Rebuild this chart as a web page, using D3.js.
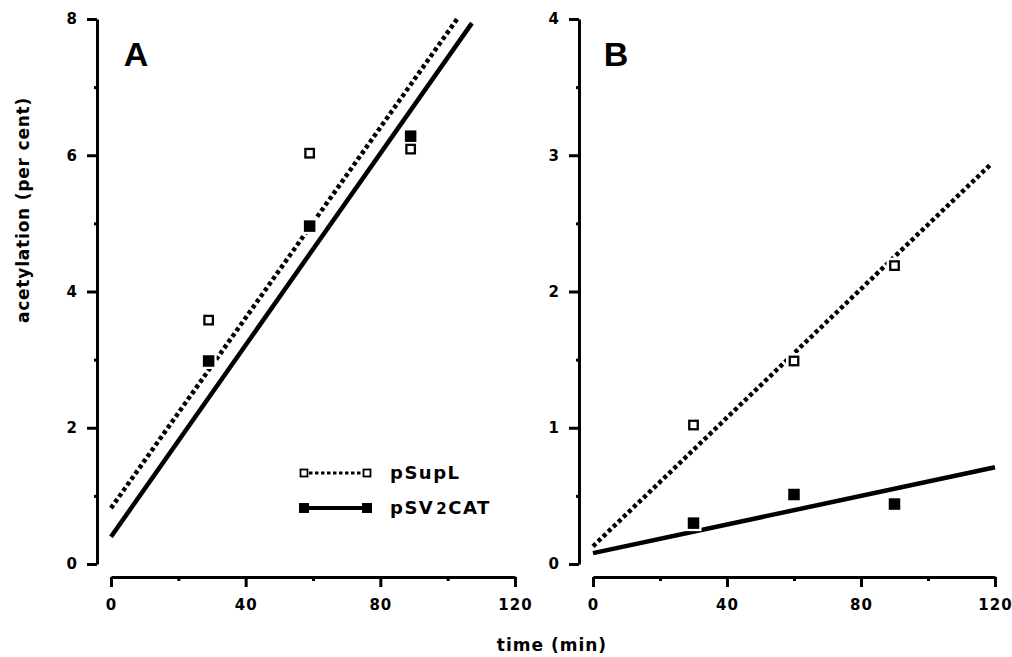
<!DOCTYPE html>
<meta charset="utf-8">
<script src="https://d3js.org/d3.v7.min.js"></script>
<style>
  body { margin: 0; background: #fff; }
  svg text { fill: #000; }
</style>
<div id="chart"></div>
<script>
  // values
  var timesA = [29, 59, 89],
      timesB = [30, 60, 90];
  var supA = [3.58, 6.03, 6.09],
      catA = [2.98, 4.96, 6.28],
      supB = [1.02, 1.49, 2.19],
      catB = [0.30, 0.51, 0.44];
  // fitted lines, drawn from their end points
  var fitSupA = [[0, 0.82], [102.8, 8.0]],
      fitCatA = [[0, 0.40], [107.2, 7.94]],
      fitSupB = [[0, 0.13], [119, 2.94]],
      fitCatB = [[0, 0.08], [120, 0.71]];
  var xMajor = [0, 40, 80, 120], xMinor = [20, 60, 100];
  var yMajorA = [0, 2, 4, 6, 8], yMinorA = [1, 3, 5, 7];
  var yMajorB = [0, 1, 2, 3, 4], yMinorB = [0.5, 1.5, 2.5, 3.5];
  var seriesNames = ["pSupL", "pSV2CAT"];

  var width = 1012, height = 657;
  var tickFont = "'DejaVu Sans', sans-serif";

  var svg = d3.select("#chart")
    .append("svg")
      .attr("width", width)
      .attr("height", height);

  function panel(opt) {
    var x = d3.scaleLinear().domain([0, 120]).range(opt.xr);
    var y = d3.scaleLinear().domain([0, opt.ymax]).range([564, 19]);
    var g = svg.append("g");

    // y axis, big ticks with labels + small unlabelled ones
    g.append("g")
      .attr("transform", "translate(" + opt.yAxisX + ",0)")
      .call(d3.axisLeft(y).tickValues(opt.yMajor).tickSize(10).tickSizeOuter(0).tickPadding(9)
        .tickFormat(d3.format("d")));
    g.append("g")
      .attr("transform", "translate(" + opt.yAxisX + ",0)")
      .call(d3.axisLeft(y).tickValues(opt.yMinor).tickSize(3).tickFormat(""))
      .call(function(s){ s.select(".domain").remove(); });

    // x axis
    g.append("g")
      .attr("transform", "translate(0,577)")
      .call(d3.axisBottom(x).tickValues(xMajor).tickSize(10).tickSizeOuter(0).tickPadding(12));
    g.append("g")
      .attr("transform", "translate(0,577)")
      .call(d3.axisBottom(x).tickValues(xMinor).tickSize(4).tickFormat(""))
      .call(function(s){ s.select(".domain").remove(); });

    g.selectAll(".domain, .tick line")
      .attr("stroke", "#000")
      .attr("stroke-width", 3);
    g.selectAll(".tick text")
      .style("font-family", tickFont)
      .style("font-weight", "bold")
      .style("font-size", "15px")
      .style("letter-spacing", "1px");

    var line = d3.line()
      .x(function(d){ return x(d[0]); })
      .y(function(d){ return y(d[1]); });

    g.append("path")
      .attr("d", line(opt.fitSup))
      .attr("fill", "none")
      .attr("stroke", "#000")
      .attr("stroke-width", 4.5)
      .attr("stroke-dasharray", "4,3");
    g.append("path")
      .attr("d", line(opt.fitCat))
      .attr("fill", "none")
      .attr("stroke", "#000")
      .attr("stroke-width", 4.5);

    var pts = opt.times.map(function(t, i){ return {t: t, v: opt.sup[i], open: true}; })
      .concat(opt.times.map(function(t, i){ return {t: t, v: opt.cat[i], open: false}; }));

    // white halo behind markers
    g.append("g").selectAll("rect")
      .data(pts)
      .enter()
      .append("rect")
        .attr("x", function(d){ return x(d.t) - 8; })
        .attr("y", function(d){ return y(d.v) - 8; })
        .attr("width", 16)
        .attr("height", 16)
        .attr("fill", "#fff");

    g.append("g").selectAll("rect")
      .data(pts)
      .enter()
      .append("rect")
        .attr("x", function(d){ return x(d.t) - (d.open ? 4.25 : 5.75); })
        .attr("y", function(d){ return y(d.v) - (d.open ? 4.25 : 5.75); })
        .attr("width", function(d){ return d.open ? 8.5 : 11.5; })
        .attr("height", function(d){ return d.open ? 8.5 : 11.5; })
        .attr("fill", function(d){ return d.open ? "#fff" : "#000"; })
        .attr("stroke", "#000")
        .attr("stroke-width", function(d){ return d.open ? 2.3 : 0; });

    g.append("text")
      .attr("x", opt.letterX)
      .attr("y", 66)
      .attr("text-anchor", "middle")
      .style("font-family", "'Liberation Sans', Arial, sans-serif")
      .style("font-weight", "bold")
      .style("font-size", "34px")
      .text(opt.letter);

    return g;
  }

  panel({xr: [111, 515], ymax: 8, yAxisX: 97, yMajor: yMajorA, yMinor: yMinorA,
    times: timesA, sup: supA, cat: catA, fitSup: fitSupA, fitCat: fitCatA, letter: "A", letterX: 136});
  panel({xr: [593, 995], ymax: 4, yAxisX: 579, yMajor: yMajorB, yMinor: yMinorB,
    times: timesB, sup: supB, cat: catB, fitSup: fitSupB, fitCat: fitCatB, letter: "B", letterX: 616});

  // legend inside panel A
  var leg = svg.append("g");
  var rows = [{y: 473, open: true}, {y: 508, open: false}];
  rows.forEach(function(r, i){
    leg.append("line")
      .attr("x1", 309).attr("x2", 362)
      .attr("y1", r.y).attr("y2", r.y)
      .attr("stroke", "#000")
      .attr("stroke-width", r.open ? 3 : 4)
      .attr("stroke-dasharray", r.open ? "3.5,2.5" : null);
    [304, 367].forEach(function(cx){
      var s = r.open ? 7 : 10;
      leg.append("rect")
        .attr("x", cx - s / 2).attr("y", r.y - s / 2)
        .attr("width", s).attr("height", s)
        .attr("fill", r.open ? "#fff" : "#000")
        .attr("stroke", "#000")
        .attr("stroke-width", r.open ? 1.8 : 0);
    });
    var t = leg.append("text")
      .attr("x", 390)
      .attr("y", r.y + 6)
      .style("font-family", tickFont)
      .style("font-weight", "bold")
      .style("font-size", "18px")
      .style("letter-spacing", "1.5px");
    if (i === 0) {
      t.text(seriesNames[0]);
    } else {
      t.append("tspan").text("pSV");
      t.append("tspan").attr("dx", 2).style("font-size", "15px").text("2");
      t.append("tspan").text("CAT");
    }
  });

  // axis titles
  svg.append("text")
    .attr("transform", "translate(28.5,210) rotate(-90)")
    .attr("text-anchor", "middle")
    .style("font-family", tickFont)
    .style("font-weight", "bold")
    .style("font-size", "17px")
    .style("letter-spacing", "0.8px")
    .text("acetylation (per cent)");

  svg.append("text")
    .attr("x", 552)
    .attr("y", 651)
    .attr("text-anchor", "middle")
    .style("font-family", tickFont)
    .style("font-weight", "bold")
    .style("font-size", "17px")
    .style("letter-spacing", "1px")
    .text("time (min)");
</script>
